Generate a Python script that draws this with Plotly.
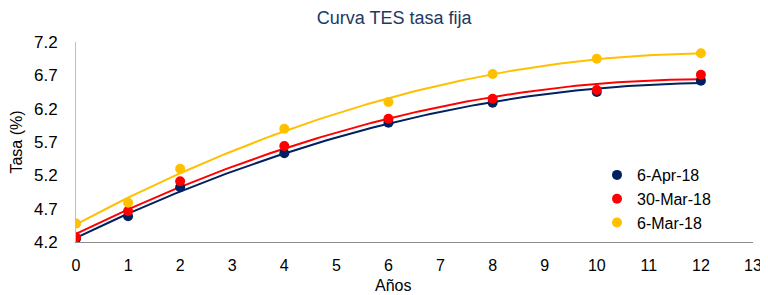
import numpy as np
import plotly.graph_objects as go

anos = [0, 1, 2, 4, 6, 8, 10, 12]
s_6apr = [4.25, 4.585, 5.02, 5.53, 5.99, 6.29, 6.45, 6.62]
s_30mar = [4.27, 4.665, 5.11, 5.64, 6.05, 6.35, 6.48, 6.71]
s_6mar = [4.476, 4.79, 5.30, 5.90, 6.30, 6.72, 6.95, 7.03]
names = ["6-Apr-18", "30-Mar-18", "6-Mar-18"]
colors = ["#002060", "#ff0000", "#ffc000"]
series = [s_6apr, s_30mar, s_6mar]
x_ticks = list(range(0, 14))
y_ticks = [4.2, 4.7, 5.2, 5.7, 6.2, 6.7, 7.2]

FONT = "Liberation Sans, Arial, sans-serif"
L, R = 68, 15
PW = 760 - L - R

fig = go.Figure()
xs = np.linspace(0, 12, 121)
# polynomial (order 2) trendlines fitted to each series
for name, col, ys in zip(names, colors, series):
    c = np.polyfit(anos, ys, 2)
    fig.add_trace(go.Scatter(x=xs, y=np.polyval(c, xs), mode="lines",
                             line=dict(color=col, width=2), showlegend=False,
                             hoverinfo="skip"))
for name, col, ys in zip(names, colors, series):
    fig.add_trace(go.Scatter(x=anos, y=ys, mode="markers", name=name,
                             marker=dict(color=col, size=10)))

fig.update_layout(
    width=760, height=287,
    margin=dict(l=L, r=R, t=34, b=53, autoexpand=False),
    paper_bgcolor="white", plot_bgcolor="white",
    font=dict(family=FONT, size=17, color="#000000"),
    title=dict(text="Curva TES tasa fija", x=0.508, xanchor="center", y=0.965, yanchor="middle",
               font=dict(family=FONT, size=18, color="#203864")),
    legend=dict(x=(589 - L) / PW, y=0.215, xanchor="left", yanchor="middle",
                bgcolor="rgba(0,0,0,0)", font=dict(size=16),
                tracegroupgap=0, itemwidth=30),
    xaxis=dict(range=[0, 13], tickmode="array", tickvals=x_ticks,
               showgrid=False, zeroline=False, showline=True, linecolor="#8c8c8c",
               linewidth=1, ticks="outside", ticklen=9, tickcolor="rgba(0,0,0,0)",
               tickfont=dict(size=16),
               ticklabeloverflow="allow", automargin=False),
    yaxis=dict(range=[4.2, 7.2], tickmode="array", tickvals=y_ticks,
               ticktext=[f"{v:.1f}" for v in y_ticks],
               showgrid=False, zeroline=False, showline=True, linecolor="#bfbfbf",
               linewidth=1, ticks="outside", ticklen=14, tickcolor="rgba(0,0,0,0)",
               automargin=False,
               title=dict(text="Tasa (%)", standoff=7, font=dict(size=16))),
    annotations=[dict(text="Años", xref="paper", yref="paper", x=(385 - L) / PW, y=-0.215,
                      xanchor="center", yanchor="middle", showarrow=False,
                      font=dict(family=FONT, size=16, color="#000000"))],
)
fig.write_html("out.html")
